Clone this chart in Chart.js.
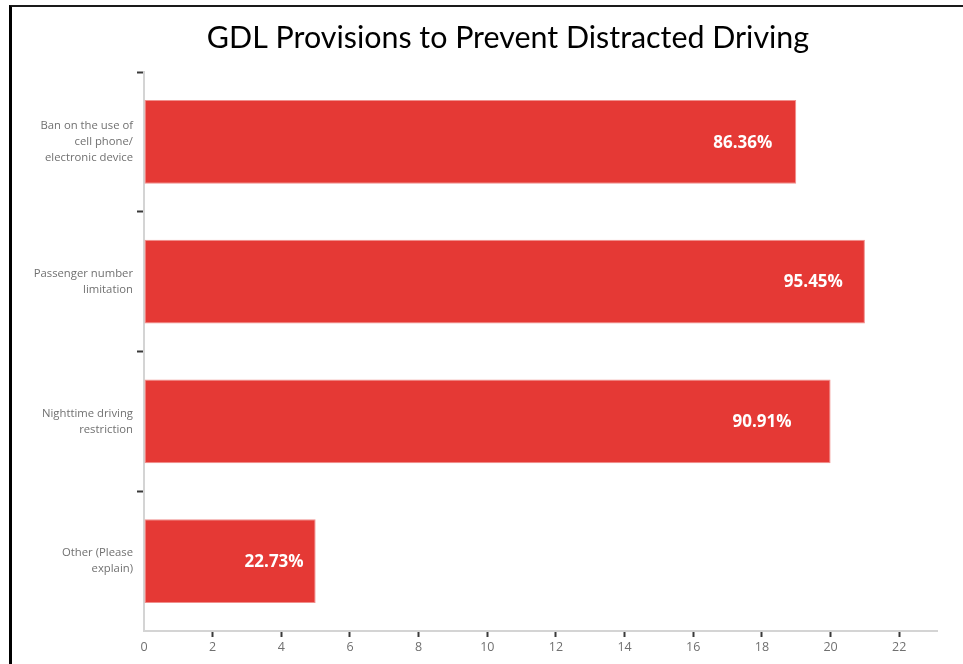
<!DOCTYPE html>
<html>
<head>
<meta charset="utf-8">
<script src="https://cdn.jsdelivr.net/npm/chart.js@4.4.1/dist/chart.umd.min.js"></script>
<style>
  html, body { margin: 0; padding: 0; background: #fff; }
  .wrap { position: relative; width: 963px; height: 664px; overflow: hidden; }
  /* slide frame: top and left edges */
  .frame {
    position: absolute; left: 9px; top: 5px; right: -10px; bottom: -10px;
    border-top: 2px solid #1a1a1a; border-left: 3px solid #000;
    pointer-events: none;
  }
  canvas { position: absolute; left: 0; top: 0; }
</style>
</head>
<body>
<div class="wrap">
  <canvas id="gdlChart" width="963" height="664"></canvas>
  <div class="frame"></div>
</div>
<script>
// ---------- data ----------
const chartTitle = 'GDL Provisions to Prevent Distracted Driving';
const provisions = [
  ['Ban on the use of', 'cell phone/', 'electronic device'],
  ['Passenger number', 'limitation'],
  ['Nighttime driving', 'restriction'],
  ['Other (Please', 'explain)'],
];
// number of responses (out of 22)
const responses = [19, 21, 20, 5];
// share of responses shown on each bar
const shareLabels = ['86.36%', '95.45%', '90.91%', '22.73%'];
// x axis tick values
const countTicks = [0, 2, 4, 6, 8, 10, 12, 14, 16, 18, 20, 22];

const barRed = '#e53935';
const tickDark = '#3a3a3a';
const axisGrey = '#d4d4d4';
const labelGrey = '#707070';

// 슬라이드 제목 (차트 영역보다 조금 오른쪽에 가운데 정렬)
const slideTitlePlugin = {
  id: 'slideTitle',
  afterDraw(chart, args, opts) {
    const ctx = chart.ctx;
    ctx.save();
    ctx.font = '30.4px Lato';
    ctx.fillStyle = '#000';
    ctx.textAlign = 'center';
    ctx.textBaseline = 'middle';
    ctx.fillText(chartTitle, opts.x, opts.y);
    ctx.restore();
  },
};

// 막대 안쪽에 퍼센트 표시
const shareLabelPlugin = {
  id: 'shareLabel',
  afterDatasetsDraw(chart, args, opts) {
    const ctx = chart.ctx;
    const bars = chart.getDatasetMeta(0).data;
    ctx.save();
    ctx.font = 'bold 17px "Open Sans"';
    ctx.fillStyle = '#fff';
    ctx.textAlign = 'right';
    ctx.textBaseline = 'middle';
    bars.forEach((bar, i) => {
      ctx.fillText(shareLabels[i], bar.x - opts.inset[i], bar.y + 1);
    });
    ctx.restore();
  },
};

const data = {
  labels: provisions,
  datasets: [
    {
      data: responses,
      backgroundColor: barRed,
      borderColor: '#f08f8c',
      borderWidth: 1,
      borderSkipped: false,
      barPercentage: 0.6,
      categoryPercentage: 1,
    },
  ],
};

const config = {
  type: 'bar',
  data: data,
  plugins: [slideTitlePlugin, shareLabelPlugin],
  options: {
    indexAxis: 'y',
    responsive: false,
    animation: false,
    layout: {
      padding: { top: 72, right: 26, bottom: 0, left: 0 },
    },
    plugins: {
      legend: { display: false },
      tooltip: { enabled: false },
      title: { display: false },
      slideTitle: { x: 508, y: 38 },
      shareLabel: {
        inset: [24, 22, 39, 12],
      },
    },
    scales: {
      x: {
        min: 0,
        max: 23.1,
        afterBuildTicks: (scale) => {
          scale.ticks = countTicks.map((v) => ({ value: v }));
        },
        afterFit: (scale) => {
          scale.height = 33;
        },
        border: { color: axisGrey, width: 2 },
        grid: {
          drawOnChartArea: false,
          tickLength: 6,
          tickWidth: 2,
          tickColor: (c) => (c.tick && c.tick.value === 0 ? 'transparent' : tickDark),
        },
        ticks: {
          padding: 3,
          color: labelGrey,
          font: { family: 'Open Sans', size: 12.5 },
        },
      },
      y: {
        afterFit: (scale) => {
          scale.width = 144;
        },
        border: { color: axisGrey, width: 2 },
        grid: {
          offset: true,
          drawOnChartArea: false,
          tickLength: 7,
          tickWidth: 2,
          tickColor: (c) => (c.type === 'tick' ? tickDark : 'transparent'),
        },
        ticks: {
          padding: 4,
          color: labelGrey,
          font: { family: 'Open Sans', size: 11.3, lineHeight: 1.42 },
        },
      },
    },
  },
};

new Chart(document.getElementById('gdlChart'), config);
</script>
</body>
</html>
